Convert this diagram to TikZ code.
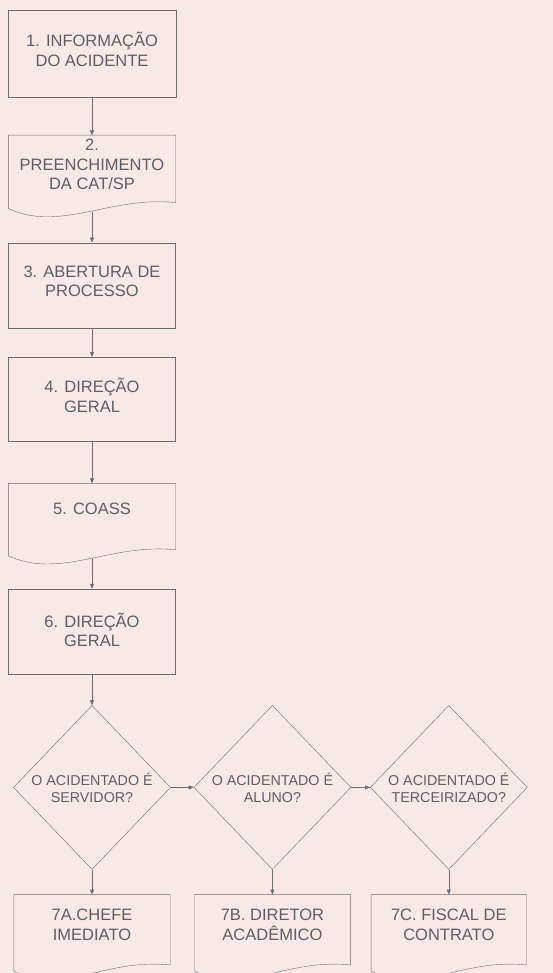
\documentclass[tikz,border=0pt]{standalone}
\usepackage{fontspec}
\setmainfont{Liberation Sans}
\usepackage{tikz}
\usetikzlibrary{arrows.meta,positioning,calc,shapes.geometric}
\definecolor{paper}{HTML}{F7E9E4}
\definecolor{ink}{HTML}{6E6C6C}
\definecolor{inktext}{HTML}{605E5E}
\tikzset{
  procbox/.style={draw=ink,thin,rectangle,align=center,text=inktext,
                  minimum width=167pt,minimum height=85pt,inner sep=2pt,
                  text depth=8pt,font=\fontsize{16.5}{19.5}\selectfont},
  docbox/.style={procbox,draw=none,minimum height=67pt},
  decision/.style={draw=ink,thin,diamond,align=center,text=inktext,aspect=0.96,
                   minimum width=157pt,minimum height=164pt,inner sep=0pt,
                   font=\fontsize{14.3}{17}\selectfont},
  flow/.style={-{Triangle[length=5pt,width=4pt]},ink,thin},
}
% outline of a document box, with its wavy foot
\newcommand{\docframe}[1]{%
  \draw[ink,thin] (#1.south east) -- (#1.north east) -- (#1.north west)
    -- ($(#1.south west)+(0,-6)$)
    .. controls ($(#1.south west)+(52,-30)$) and ($(#1.south east)+(-65,7)$)
    .. (#1.south east);
  \coordinate (#1w) at ($(#1.south)+(0,-9)$);}

\begin{document}
\begin{tikzpicture}[x=1pt,y=1pt]
\fill[paper] (0,0) rectangle (553,-973);
\clip (0,0) rectangle (553,-973);

% main column
\node[procbox, minimum width=168pt, minimum height=87pt] (info) at (92,-53.5)
  {1. INFORMAÇÃO\\DO ACIDENTE};
\node[docbox, below=38pt of info, text depth=9pt] (cat) {2.\\PREENCHIMENTO\\DA CAT/SP};
\docframe{cat}
\node[procbox, below=40pt of cat] (abert) {3. ABERTURA DE\\PROCESSO};
\node[procbox, below=29pt of abert, minimum height=84pt] (dirA) {4. DIREÇÃO\\GERAL};
\node[docbox, below=42pt of dirA, minimum height=66pt, text depth=16pt] (coass)
  {5. COASS};
\docframe{coass}
\node[procbox, below=39pt of coass, text depth=3pt] (dirB) {6. DIREÇÃO\\GERAL};

% decisions
\node[decision, below=31pt of dirB] (servidor) {O ACIDENTADO É\\SERVIDOR?};
\node[decision, right=23pt of servidor] (aluno) {O ACIDENTADO É\\ALUNO?};
\node[decision, right=19pt of aluno] (terc) {O ACIDENTADO É\\TERCEIRIZADO?};

% who receives it
\node[docbox, below=25pt of servidor, minimum width=156pt, minimum height=70pt,
  text depth=10pt] (chefe) {7A.CHEFE\\IMEDIATO};
\docframe{chefe}
\node[docbox, below=25pt of aluno, minimum width=156pt, minimum height=70pt,
  text depth=10pt] (diretor) {7B. DIRETOR\\ACADÊMICO};
\docframe{diretor}
\node[docbox, below=25pt of terc, minimum width=155pt, minimum height=70pt,
  text depth=10pt] (fiscal) {7C. FISCAL DE\\CONTRATO};
\docframe{fiscal}

\draw[flow] (info) -- (cat);
\draw[flow] (catw) -- (abert);
\draw[flow] (abert) -- (dirA);
\draw[flow] (dirA) -- (coass);
\draw[flow] (coassw) -- (dirB);
\draw[flow] (dirB) -- (servidor);
\draw[flow] (servidor) -- (aluno);
\draw[flow] (aluno) -- (terc);
\draw[flow] (servidor) -- (chefe);
\draw[flow] (aluno) -- (diretor);
\draw[flow] (terc) -- (fiscal);

\end{tikzpicture}
\end{document}
